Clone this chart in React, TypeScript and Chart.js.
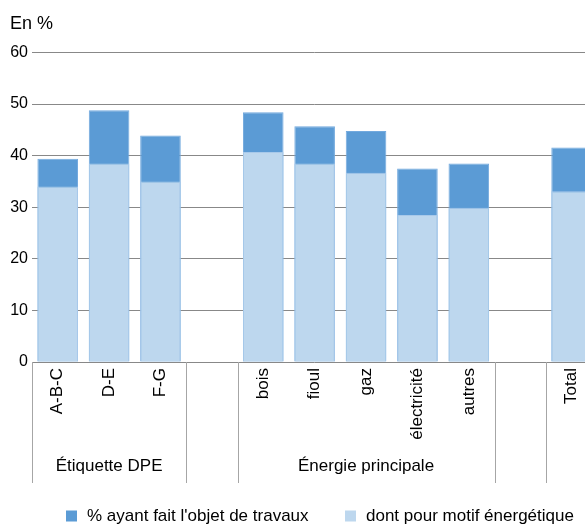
import React, { useEffect, useRef } from "react";
import { Chart, registerables } from "chart.js";

Chart.register(...registerables);

const categories = ["A-B-C", "D-E", "F-G", "", "bois", "fioul", "gaz", "électricité", "autres", "", "Total"];
const travaux = [39.4, 48.8, 43.9, null, 48.4, 45.7, 44.8, 37.5, 38.5, null, 41.6];
const energetique = [34.0, 38.5, 35.0, null, 40.7, 38.5, 36.7, 28.5, 29.9, null, 33.1];
const yTicks = [0, 10, 20, 30, 40, 50, 60];
const groups = [
  { label: "Étiquette DPE", from: 0, to: 3 },
  { label: "", from: 3, to: 4 },
  { label: "Énergie principale", from: 4, to: 9 },
  { label: "", from: 9, to: 10 },
  { label: "", from: 10, to: 11 },
];
const seriesNames = ["% ayant fait l'objet de travaux", "dont pour motif énergétique"];

const FONT = "'Liberation Sans', Arial, Helvetica, sans-serif";
const W = 598;
const H = 534;

const groupPlugin = {
  id: "groupPlugin",
  afterDraw(chart: any) {
    const x = chart.scales.x;
    const area = chart.chartArea;
    const ctx = chart.ctx;
    const half = (x.getPixelForValue(1) - x.getPixelForValue(0)) / 2;
    const edge = (i: number) => x.getPixelForValue(i) - half;
    const y0 = area.bottom;
    const y1 = area.bottom + 121;
    ctx.save();
    ctx.strokeStyle = "#a6a6a6";
    ctx.lineWidth = 1;
    const bounds = new Set<number>();
    groups.forEach((g) => {
      bounds.add(g.from);
      bounds.add(g.to);
    });
    bounds.forEach((b) => {
      const px = Math.round(edge(b)) + 0.5;
      ctx.beginPath();
      ctx.moveTo(px, y0);
      ctx.lineTo(px, y1);
      ctx.stroke();
    });
    ctx.fillStyle = "#000";
    ctx.font = `17px ${FONT}`;
    ctx.textAlign = "center";
    ctx.textBaseline = "middle";
    groups.forEach((g) => {
      if (!g.label) return;
      const cx = (edge(g.from) + edge(g.to)) / 2;
      ctx.fillText(g.label, cx, area.bottom + 104);
    });
    ctx.restore();
  },
};

const legendPlugin = {
  id: "customLegend",
  afterDraw(chart: any) {
    const ctx = chart.ctx;
    const area = chart.chartArea;
    const yc = area.bottom + 154;
    const starts = [66, 345];
    ctx.save();
    ctx.font = `17px ${FONT}`;
    ctx.textBaseline = "middle";
    ctx.textAlign = "left";
    chart.data.datasets.forEach((ds: any, i: number) => {
      const x0 = starts[i];
      ctx.fillStyle = ds.backgroundColor;
      ctx.fillRect(x0, yc - 5.5, 11, 11);
      ctx.fillStyle = "#000";
      ctx.fillText(ds.label, x0 + 21, yc);
    });
    ctx.restore();
  },
};

export default function App() {
  const ref = useRef<HTMLCanvasElement | null>(null);
  useEffect(() => {
    if (!ref.current) return;
    const chart = new Chart(ref.current, {
      type: "bar",
      data: {
        labels: categories,
        datasets: [
          {
            label: seriesNames[0],
            data: travaux,
            backgroundColor: "#5b9bd5",
            borderColor: "#72a9de",
            borderWidth: 1,
            grouped: false,
            order: 1,
            barPercentage: 0.79,
            categoryPercentage: 1,
          } as any,
          {
            label: seriesNames[1],
            data: energetique,
            backgroundColor: "#bdd7ee",
            borderColor: "#a8c9ea",
            borderWidth: 1,
            grouped: false,
            order: 0,
            barPercentage: 0.79,
            categoryPercentage: 1,
          } as any,
        ],
      },
      options: {
        responsive: false,
        animation: false,
        layout: { padding: { left: 10, right: 0, top: 0, bottom: 80 } },
        plugins: {
          title: {
            display: true,
            text: "En %",
            align: "start",
            color: "#000",
            font: { family: FONT, size: 18, weight: "normal" },
            padding: { top: 13.5, bottom: 17.4 },
          },
          legend: { display: false },
          tooltip: { enabled: false },
        },
        scales: {
          x: {
            offset: true,
            grid: { display: false, drawTicks: false },
            border: { display: false },
            ticks: {
              color: "#000",
              font: { family: FONT, size: 17 },
              minRotation: 90,
              maxRotation: 90,
              autoSkip: false,
              padding: 6,
            },
            afterFit: (s: any) => {
              s.height = 92;
            },
          },
          y: {
            min: 0,
            max: 60,
            afterBuildTicks: (s: any) => {
              s.ticks = yTicks.map((v) => ({ value: v }));
            },
            grid: { color: "#888888", lineWidth: 1, drawTicks: false },
            border: { display: false },
            ticks: {
              color: "#000",
              font: { family: FONT, size: 16 },
              padding: 4,
            },
            afterFit: (s: any) => {
              s.width = 22;
            },
          },
        },
      },
      plugins: [groupPlugin, legendPlugin],
    });
    return () => chart.destroy();
  }, []);
  return (
    <div
      style={{
        position: "fixed",
        left: 0,
        top: 0,
        width: 585,
        height: 525,
        overflow: "hidden",
        background: "#fff",
      }}
    >
      <canvas ref={ref} width={W} height={H} style={{ width: W, height: H, display: "block" }} />
    </div>
  );
}
